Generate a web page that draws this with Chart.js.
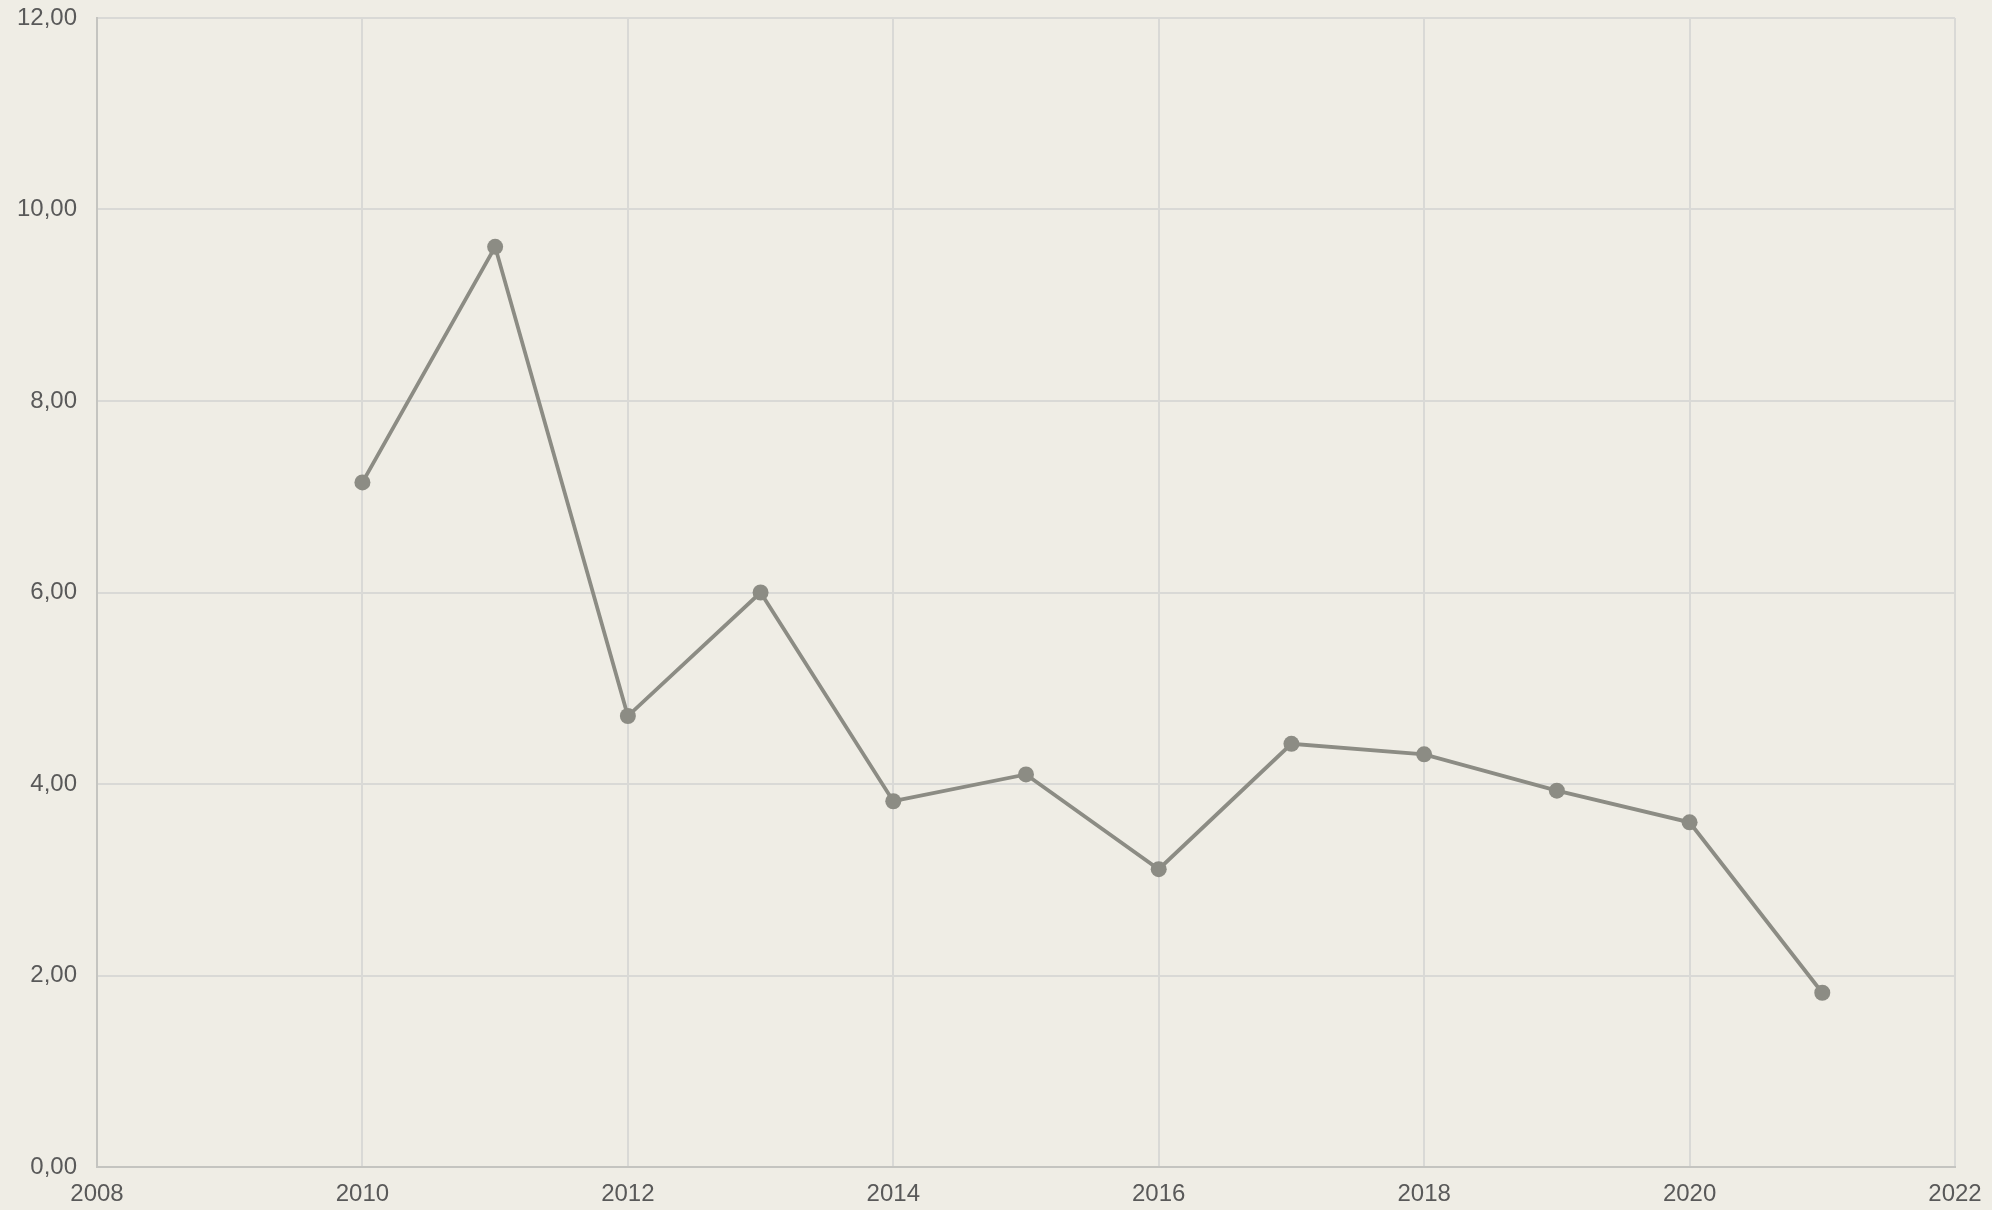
<!DOCTYPE html>
<html>
<head>
<meta charset="utf-8">
<script src="https://cdn.jsdelivr.net/npm/chart.js@4/dist/chart.umd.min.js"></script>
<style>
html,body{margin:0;padding:0;background:#efede5;}
#wrap{width:1992px;height:1210px;position:relative;}
</style>
</head>
<body>
<div id="wrap"><canvas id="c" width="1992" height="1210"></canvas></div>
<script>
const years = [2010, 2011, 2012, 2013, 2014, 2015, 2016, 2017, 2018, 2019, 2020, 2021];
const values = [7.15, 9.61, 4.71, 6.00, 3.82, 4.10, 3.11, 4.42, 4.31, 3.93, 3.60, 1.82];
const xTicks = [2008, 2010, 2012, 2014, 2016, 2018, 2020, 2022];
const yTicks = [0, 2, 4, 6, 8, 10, 12];

const points = years.map((y, i) => ({x: y, y: values[i]}));

new Chart(document.getElementById('c'), {
  type: 'line',
  data: {
    datasets: [{
      data: points,
      borderColor: '#8c8c84',
      backgroundColor: '#8c8c84',
      borderWidth: 3.8,
      pointRadius: 8,
      pointHoverRadius: 8,
      pointBorderWidth: 0,
      tension: 0,
      fill: false
    }]
  },
  options: {
    responsive: false,
    animation: false,
    layout: {padding: {top: 18, right: 37, left: 0, bottom: 0}},
    plugins: {legend: {display: false}, tooltip: {enabled: false}},
    scales: {
      x: {
        type: 'linear',
        min: xTicks[0],
        max: xTicks[xTicks.length - 1],
        afterBuildTicks: s => { s.ticks = xTicks.map(v => ({value: v})); },
        afterFit: s => { s.height = 43; s.paddingLeft = 0; s.paddingRight = 0; },
        grid: {color: '#d9d9d6', lineWidth: 2, drawTicks: false},
        border: {color: '#c4c4c0', width: 2},
        ticks: {
          padding: 13,
          color: '#595959',
          font: {family: 'Liberation Sans', size: 24},
          callback: v => String(v)
        }
      },
      y: {
        min: yTicks[0],
        max: yTicks[yTicks.length - 1],
        afterBuildTicks: s => { s.ticks = yTicks.map(v => ({value: v})); },
        afterFit: s => { s.width = 97; s.paddingTop = 0; s.paddingBottom = 0; },
        grid: {color: '#d9d9d6', lineWidth: 2, drawTicks: false},
        border: {color: '#c4c4c0', width: 2},
        ticks: {
          padding: 20,
          color: '#595959',
          font: {family: 'Liberation Sans', size: 24},
          callback: v => v.toFixed(2).replace('.', ',')
        }
      }
    }
  },
  plugins: [{
    id: 'bg',
    beforeDraw: c => {
      const ctx = c.ctx;
      ctx.save();
      ctx.fillStyle = '#efede5';
      ctx.fillRect(0, 0, c.width, c.height);
      ctx.restore();
    }
  }]
});
</script>
</body>
</html>
